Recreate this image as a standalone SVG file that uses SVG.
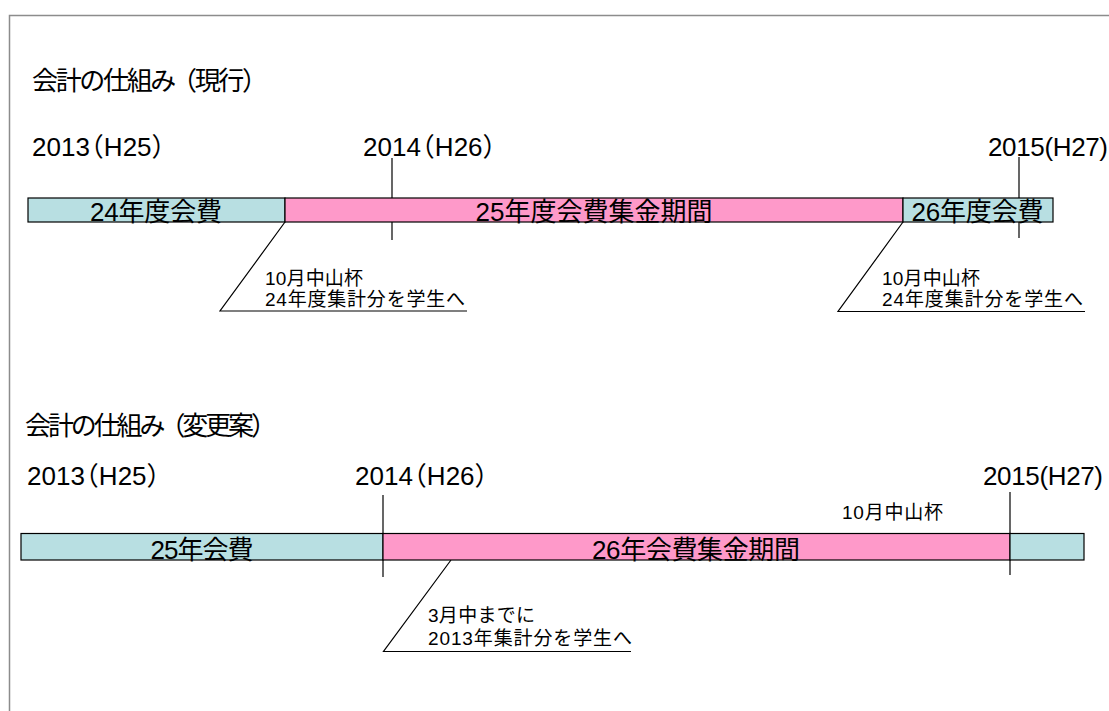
<svg xmlns="http://www.w3.org/2000/svg" width="1109" height="711" viewBox="0 0 1109 711">
<style>
text{font-family:"Liberation Sans","Noto Sans CJK JP",sans-serif;fill:#000}
.title{font-size:26px}
.year{font-size:26px}
.bar{font-size:26px;text-anchor:middle}
.note{font-size:19px}
.cy{fill:#b8dfe2;stroke:#000;stroke-width:1.2}
.pk{fill:#fe99c9;stroke:#000;stroke-width:1.2}
.ln{fill:none;stroke:#000;stroke-width:1.2}
</style>
<rect x="0" y="0" width="1109" height="711" fill="#fff"/>
<rect x="9.5" y="15.5" width="1200" height="800" fill="none" stroke="#8c8c8c" stroke-width="1.5"/>

<g id="connectors">
  <line class="ln" x1="392" y1="158" x2="392" y2="240"/>
  <line class="ln" x1="1019" y1="157" x2="1019" y2="238"/>
  <polyline class="ln" points="285,222 220,311 467,311"/>
  <polyline class="ln" points="903,222 838,311.5 1085,311.5"/>
  <polyline class="ln" points="451,560 383.5,651.5 631,651.5"/>
</g>

<g id="current">
  <text id="title-current" class="title" x="32" y="90" textLength="236" lengthAdjust="spacing">会計の仕組み<tspan dx="-3">（</tspan>現行）</text>
  <text id="y2013a" class="year" x="32" y="156">2013<tspan dx="-12">（</tspan>H25）</text>
  <text id="y2014a" class="year" x="363" y="156">2014<tspan dx="-12">（</tspan>H26）</text>
  <text id="y2015a" class="year" x="988" y="156" textLength="120" lengthAdjust="spacing">2015(H27)</text>
  <g id="bar24">
    <rect class="cy" x="28" y="198" width="257" height="24"/>
    <text class="bar" x="156" y="221" textLength="132" lengthAdjust="spacing">24年度会費</text>
  </g>
  <g id="bar25">
    <rect class="pk" x="285" y="198" width="618" height="24"/>
    <text class="bar" x="594" y="221" textLength="237" lengthAdjust="spacing">25年度会費集金期間</text>
  </g>
  <g id="bar26">
    <rect class="cy" x="903" y="198" width="150" height="24"/>
    <text class="bar" x="977.5" y="221" textLength="132" lengthAdjust="spacing">26年度会費</text>
  </g>
  <g id="note1">
    <text class="note" x="265" y="285" textLength="98" lengthAdjust="spacing">10月中山杯</text>
    <text class="note" x="265" y="306" textLength="200" lengthAdjust="spacing">24年度集計分を学生へ</text>
  </g>
  <g id="note2">
    <text class="note" x="882" y="285" textLength="98" lengthAdjust="spacing">10月中山杯</text>
    <text class="note" x="882" y="306" textLength="201" lengthAdjust="spacing">24年度集計分を学生へ</text>
  </g>
</g>

<g id="proposal">
  <text id="title-proposal" class="title" x="25" y="435" textLength="252" lengthAdjust="spacing">会計の仕組み<tspan dx="-3">（</tspan>変更案）</text>
  <text id="y2013b" class="year" x="27" y="485">2013<tspan dx="-12">（</tspan>H25）</text>
  <text id="y2014b" class="year" x="355" y="485">2014<tspan dx="-12">（</tspan>H26）</text>
  <text id="y2015b" class="year" x="983" y="485" textLength="120" lengthAdjust="spacing">2015(H27)</text>
  <line class="ln" x1="383" y1="495" x2="383" y2="577"/>
  <line class="ln" x1="1010" y1="492" x2="1010" y2="575"/>
  <g id="bar25b">
    <rect class="cy" x="21" y="533.5" width="362" height="26.5"/>
    <text class="bar" x="202" y="559" textLength="103" lengthAdjust="spacing">25年会費</text>
  </g>
  <g id="bar26b">
    <rect class="pk" x="383" y="533.5" width="627" height="26.5"/>
    <text class="bar" x="696" y="559" textLength="208" lengthAdjust="spacing">26年会費集金期間</text>
  </g>
  <g id="bar27b">
    <rect class="cy" x="1010" y="533.5" width="74" height="26.5"/>
  </g>
  <g id="note3">
    <text class="note" x="842" y="519" textLength="101" lengthAdjust="spacing">10月中山杯</text>
  </g>
  <g id="note4">
    <text class="note" x="428" y="622" textLength="107" lengthAdjust="spacing">3月中までに</text>
    <text class="note" x="428" y="645" textLength="204" lengthAdjust="spacing">2013年集計分を学生へ</text>
  </g>
</g>
</svg>
